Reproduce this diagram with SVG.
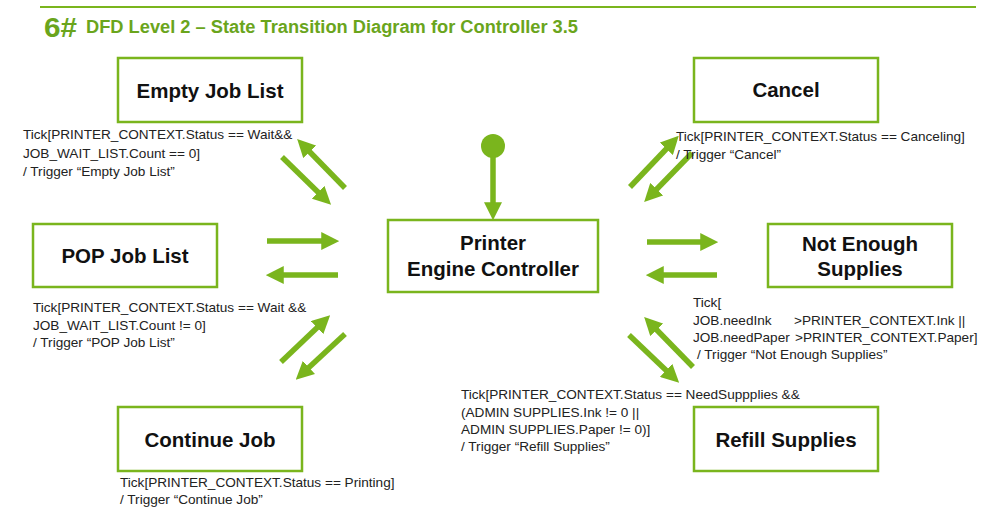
<svg xmlns="http://www.w3.org/2000/svg" width="981" height="511" viewBox="0 0 981 511">
<style>
.box{fill:#fff;stroke:#7ab51d;stroke-width:2.5}
.bt{font-family:"Liberation Sans",Arial,sans-serif;font-weight:bold;font-size:20.5px;fill:#111;text-anchor:middle}
.lb{font-family:"Liberation Sans",Arial,sans-serif;font-size:13.6px;fill:#222}
.ar{stroke:#7ab51d;stroke-width:5.5;fill:none;marker-end:url(#ah)}
</style>
<defs>
<marker id="ah" markerUnits="userSpaceOnUse" markerWidth="18" markerHeight="18" refX="6" refY="8" orient="auto" viewBox="0 0 16 16">
<path d="M0,0 L16,8 L0,16 z" fill="#7ab51d"/>
</marker>
</defs>
<rect width="981" height="511" fill="#fff"/>
<g id="title">
<line x1="40" y1="7" x2="976" y2="7" stroke="#7ab51d" stroke-width="2"/>
<text x="44" y="37" font-family="'Liberation Sans',Arial,sans-serif" font-weight="bold" font-size="28" fill="#6aa51c" textLength="33" lengthAdjust="spacingAndGlyphs">6#</text>
<text x="86" y="33" font-family="'Liberation Sans',Arial,sans-serif" font-weight="bold" font-size="18" fill="#6aa51c" textLength="492" lengthAdjust="spacingAndGlyphs">DFD Level 2 – State Transition Diagram for Controller 3.5</text>
</g>
<g id="connectors">
<circle cx="493" cy="146" r="12" fill="#7ab51d"/>
<line class="ar" x1="493" y1="156" x2="493" y2="209"/>
<line class="ar" x1="345" y1="188" x2="305" y2="147"/>
<line class="ar" x1="282" y1="157" x2="323" y2="197"/>
<line class="ar" x1="267" y1="241" x2="328" y2="241"/>
<line class="ar" x1="338" y1="275" x2="277" y2="275"/>
<line class="ar" x1="281" y1="362" x2="322" y2="323"/>
<line class="ar" x1="345" y1="334" x2="304" y2="372"/>
<line class="ar" x1="630" y1="187" x2="671" y2="144"/>
<line class="ar" x1="692" y1="153" x2="652" y2="194"/>
<line class="ar" x1="647" y1="242" x2="707" y2="242"/>
<line class="ar" x1="717" y1="275" x2="657" y2="275"/>
<line class="ar" x1="693" y1="367" x2="652" y2="325"/>
<line class="ar" x1="629" y1="335" x2="671" y2="375"/>
</g>
<g id="empty-job-list">
<rect class="box" x="118" y="58" width="184" height="64"/>
<text class="bt" x="210" y="98">Empty Job List</text>
</g>
<g id="pop-job-list">
<rect class="box" x="33" y="224" width="184" height="63"/>
<text class="bt" x="125" y="263">POP Job List</text>
</g>
<g id="continue-job">
<rect class="box" x="118" y="407" width="184" height="64"/>
<text class="bt" x="210" y="447">Continue Job</text>
</g>
<g id="controller">
<rect class="box" x="388" y="220" width="210" height="72"/>
<text class="bt" x="493" y="250">Printer</text>
<text class="bt" x="493" y="276">Engine Controller</text>
</g>
<g id="cancel">
<rect class="box" x="694" y="58" width="184" height="64"/>
<text class="bt" x="786" y="97">Cancel</text>
</g>
<g id="not-enough-supplies">
<rect class="box" x="768" y="224" width="184" height="63"/>
<text class="bt" x="860" y="251">Not Enough</text>
<text class="bt" x="860" y="276">Supplies</text>
</g>
<g id="refill-supplies">
<rect class="box" x="694" y="407" width="184" height="64"/>
<text class="bt" x="786" y="447">Refill Supplies</text>
</g>
<g id="labels">
<text class="lb" x="23" y="139">Tick[PRINTER_CONTEXT.Status == Wait&amp;&amp;</text>
<text class="lb" x="23" y="158">JOB_WAIT_LIST.Count == 0]</text>
<text class="lb" x="23" y="176">/ Trigger “Empty Job List”</text>
<text class="lb" x="33" y="312">Tick[PRINTER_CONTEXT.Status == Wait &amp;&amp;</text>
<text class="lb" x="33" y="330">JOB_WAIT_LIST.Count != 0]</text>
<text class="lb" x="33" y="347">/ Trigger “POP Job List”</text>
<text class="lb" x="120" y="487">Tick[PRINTER_CONTEXT.Status == Printing]</text>
<text class="lb" x="120" y="504">/ Trigger “Continue Job”</text>
<text class="lb" x="676" y="141">Tick[PRINTER_CONTEXT.Status == Canceling]</text>
<text class="lb" x="676" y="159">/ Trigger “Cancel”</text>
<text class="lb" x="693" y="307">Tick[</text>
<text class="lb" x="693" y="325">JOB.needInk</text>
<text class="lb" x="794" y="325">&gt;PRINTER_CONTEXT.Ink ||</text>
<text class="lb" x="693" y="342">JOB.needPaper</text>
<text class="lb" x="795" y="342">&gt;PRINTER_CONTEXT.Paper]</text>
<text class="lb" x="697" y="359">/ Trigger “Not Enough Supplies”</text>
<text class="lb" x="461" y="399">Tick[PRINTER_CONTEXT.Status == NeedSuppplies &amp;&amp;</text>
<text class="lb" x="461" y="417">(ADMIN SUPPLIES.Ink != 0 ||</text>
<text class="lb" x="461" y="434">ADMIN SUPPLIES.Paper != 0)]</text>
<text class="lb" x="461" y="451">/ Trigger “Refill Supplies”</text>
</g>
</svg>
